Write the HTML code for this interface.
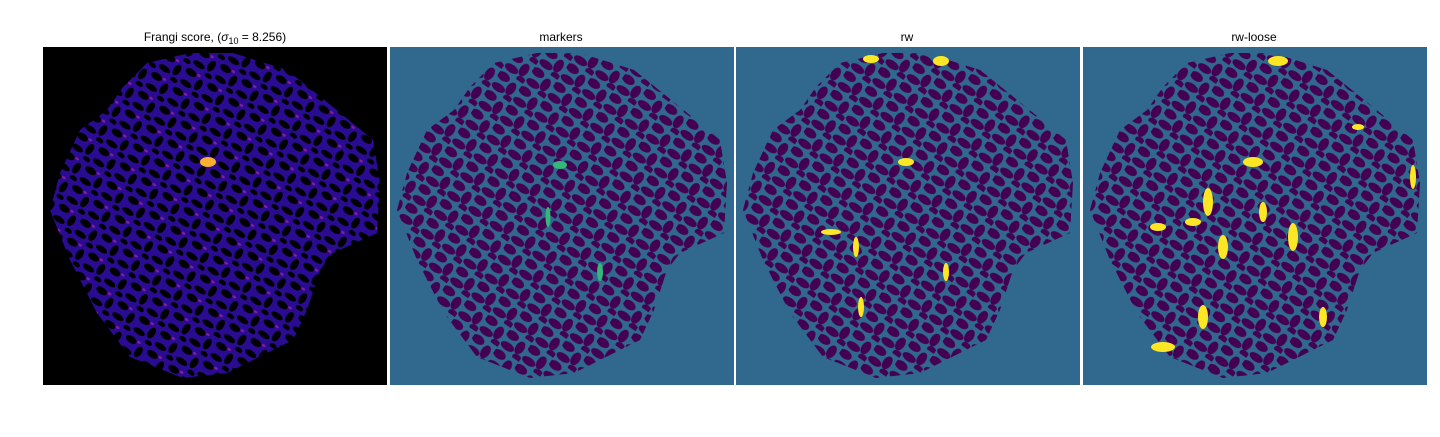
<!DOCTYPE html>
<html><head><meta charset="utf-8"><style>
body{margin:0;background:#fff;width:1440px;height:432px;overflow:hidden;font-family:"Liberation Sans","DejaVu Sans",sans-serif}
</style></head><body>
<svg width="1440" height="432" viewBox="0 0 1440 432" xmlns="http://www.w3.org/2000/svg">
<defs>
<clipPath id="blob"><polygon points="190,6 244,23 290,60 330,93 337,136 334,186 290,206 277,223 264,263 250,293 184,326 140,331 87,310 54,266 27,213 7,163 17,126 37,83 64,63 80,40 104,16 147,6"/></clipPath>
<pattern id="spots1" width="26" height="23" patternUnits="userSpaceOnUse" patternTransform="rotate(35)">
<rect width="26" height="23" fill="#2a0c92"/>
<ellipse cx="6" cy="5" rx="6" ry="3.5" fill="#000"/><ellipse cx="19" cy="11" rx="3.5" ry="6" fill="#000"/>
<ellipse cx="8" cy="17" rx="6.5" ry="3" fill="#000"/><ellipse cx="22" cy="21" rx="4" ry="2.5" fill="#000"/>
<ellipse cx="14" cy="3" rx="2" ry="1.2" fill="#8a1aa0"/>
</pattern>
<pattern id="spots2" width="26" height="23" patternUnits="userSpaceOnUse" patternTransform="rotate(35)">
<rect width="26" height="23" fill="#31688e"/>
<ellipse cx="6" cy="5" rx="7" ry="4.5" fill="#440154"/><ellipse cx="19" cy="11" rx="4.5" ry="7" fill="#440154"/>
<ellipse cx="8" cy="17" rx="7.5" ry="4" fill="#440154"/><ellipse cx="22" cy="21" rx="5" ry="3.5" fill="#440154"/>
</pattern>
</defs>
<g transform="translate(43,47)">
<rect width="344" height="338" fill="#000"/>
<rect width="344" height="338" fill="url(#spots1)" clip-path="url(#blob)"/>
<ellipse cx="165" cy="115" rx="8" ry="5" fill="#f9b030"/>
</g>
<g transform="translate(390,47)">
<rect width="344" height="338" fill="#31688e"/>
<rect width="344" height="338" fill="url(#spots2)" clip-path="url(#blob)"/>
<g fill="#35b779"><ellipse cx="170" cy="118" rx="7" ry="4"/><ellipse cx="158" cy="170" rx="2.5" ry="10"/><ellipse cx="210" cy="225" rx="3" ry="9"/></g>
</g>
<g transform="translate(736,47)">
<rect width="344" height="338" fill="#31688e"/>
<rect width="344" height="338" fill="url(#spots2)" clip-path="url(#blob)"/>
<g fill="#fde725"><ellipse cx="170" cy="115" rx="8" ry="4"/><ellipse cx="135" cy="12" rx="8" ry="4"/><ellipse cx="205" cy="14" rx="8" ry="5"/><ellipse cx="120" cy="200" rx="3" ry="10"/><ellipse cx="95" cy="185" rx="10" ry="3"/><ellipse cx="125" cy="260" rx="3" ry="10"/><ellipse cx="210" cy="225" rx="3" ry="9"/></g>
</g>
<g transform="translate(1083,47)">
<rect width="344" height="338" fill="#31688e"/>
<rect width="344" height="338" fill="url(#spots2)" clip-path="url(#blob)"/>
<g fill="#fde725"><ellipse cx="170" cy="115" rx="10" ry="5"/><ellipse cx="195" cy="14" rx="10" ry="5"/><ellipse cx="140" cy="200" rx="5" ry="12"/><ellipse cx="125" cy="155" rx="5" ry="14"/><ellipse cx="210" cy="190" rx="5" ry="14"/><ellipse cx="120" cy="270" rx="5" ry="12"/><ellipse cx="80" cy="300" rx="12" ry="5"/><ellipse cx="240" cy="270" rx="4" ry="10"/><ellipse cx="330" cy="130" rx="3" ry="12"/><ellipse cx="110" cy="175" rx="8" ry="4"/><ellipse cx="180" cy="165" rx="4" ry="10"/><ellipse cx="75" cy="180" rx="8" ry="4"/><ellipse cx="275" cy="80" rx="6" ry="3"/></g>
</g>
<g font-size="12" fill="#000" text-anchor="middle">
<text x="215" y="41">Frangi score, (<tspan font-style="italic">σ</tspan><tspan font-size="9" dy="3">10</tspan><tspan dy="-3"> = 8.256)</tspan></text>
<text x="561" y="41">markers</text>
<text x="907" y="41">rw</text>
<text x="1254" y="41">rw-loose</text>
</g>
</svg>
</body></html>
